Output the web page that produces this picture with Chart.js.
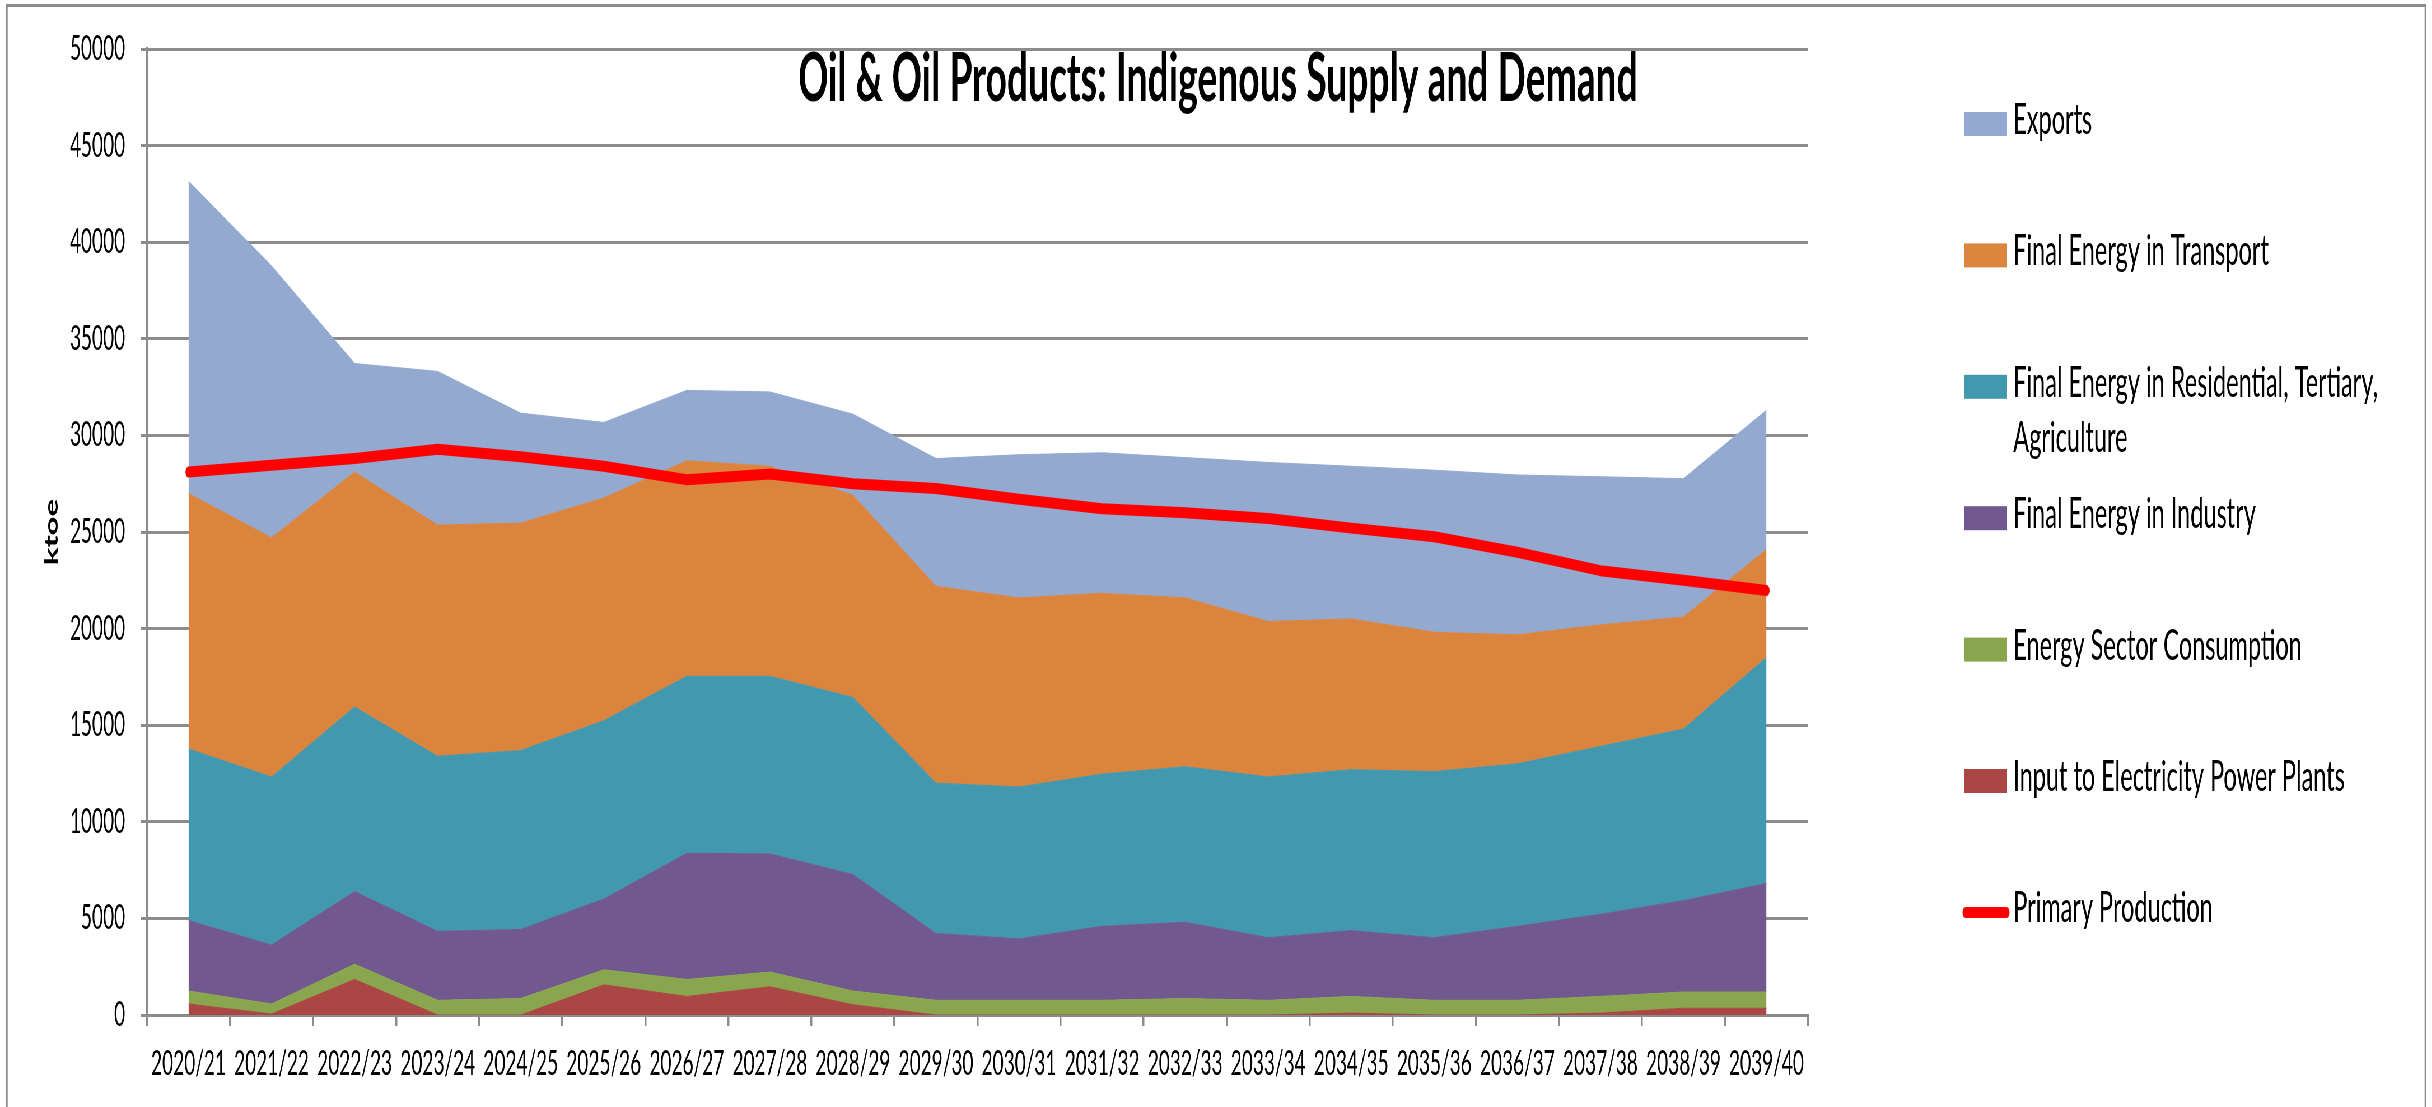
<!DOCTYPE html>
<html>
<head>
<meta charset="utf-8">
<title>Oil &amp; Oil Products: Indigenous Supply and Demand</title>
<script src="https://cdn.jsdelivr.net/npm/chart.js@4.4.1/dist/chart.umd.min.js"></script>
<style>
    html, body { margin: 0; padding: 0; background: #fff; overflow: hidden; }
    /* the original picture is squeezed sideways, so the whole chart is drawn wide and squeezed */
    #stage { position: relative; width: 4343px; height: 1107px; transform: scaleX(0.56); transform-origin: 0 0; }
    #stage canvas { position: absolute; left: 0; top: 0; }
    #frame { position: absolute; left: 11px; top: 4px; width: 4322px; height: 1200px;
             border: 3.5px solid #8c8c8c; box-sizing: border-box; pointer-events: none; }
</style>
</head>
<body>
<div id="stage">
    <canvas id="oilChart" width="4343" height="1107"></canvas>
    <div id="frame"></div>
</div>
<script>
const chartTitle = 'Oil & Oil Products: Indigenous Supply and Demand';

const years = ['2020/21', '2021/22', '2022/23', '2023/24', '2024/25', '2025/26', '2026/27',
    '2027/28', '2028/29', '2029/30', '2030/31', '2031/32', '2032/33', '2033/34', '2034/35',
    '2035/36', '2036/37', '2037/38', '2038/39', '2039/40'];

const yTicks = [0, 5000, 10000, 15000, 20000, 25000, 30000, 35000, 40000, 45000, 50000];

// ktoe
const powerPlants = [570, 50, 1840, 0, 0, 1560, 960, 1460, 530, 0, 0, 0, 0, 0, 100, 0, 0, 100, 350, 350];
const energySector = [670, 520, 790, 760, 850, 780, 880, 760, 710, 760, 760, 760, 850, 760, 860, 760, 760, 860, 840, 840];
const industry = [3650, 3050, 3760, 3570, 3580, 3660, 6530, 6120, 6030, 3460, 3180, 3830, 3950, 3240, 3410, 3240, 3830, 4250, 4730, 5610];
const residential = [8880, 8700, 9550, 9060, 9260, 9230, 9160, 9190, 9170, 7780, 7860, 7880, 8050, 8320, 8330, 8600, 8410, 8690, 8880, 11700];
const transport = [13220, 12380, 12160, 11970, 11770, 11530, 11160, 10870, 10460, 10190, 9790, 9360, 8740, 8050, 7800, 7210, 6680, 6290, 5800, 5600];
const exportsData = [16160, 14070, 5620, 7950, 5690, 3910, 3640, 3850, 4200, 6610, 7410, 7270, 7260, 8230, 7900, 8390, 8270, 7670, 7160, 7200];
const primaryProduction = [28100, 28450, 28800, 29280, 28900, 28400, 27700, 28000, 27500, 27250, 26700, 26200, 26000, 25700, 25200, 24750, 23950, 23000, 22500, 21970];

const axisGrey = '#8c8c8c';

function area(label, data, color, fill) {
    return {
        label: label,
        data: data,
        backgroundColor: color,
        borderColor: color,
        borderWidth: 1,
        pointRadius: 0,
        tension: 0,
        fill: fill
    };
}

function wrapText(ctx, text, maxWidth) {
    const words = text.split(' ');
    const lines = [];
    let line = '';
    words.forEach(word => {
        const test = line ? line + ' ' + word : word;
        if (line && ctx.measureText(test).width > maxWidth) {
            lines.push(line);
            line = word;
        } else {
            line = test;
        }
    });
    lines.push(line);
    return lines;
}

// title sits inside the plot, above the data
const overlayTitle = {
    id: 'overlayTitle',
    afterDraw(chart) {
        const ctx = chart.ctx;
        ctx.save();
        ctx.font = 'bold 66.5px Lato';
        ctx.fillStyle = '#000';
        ctx.textAlign = 'center';
        ctx.textBaseline = 'alphabetic';
        ctx.fillText(chartTitle, 2175, 101);
        ctx.restore();
    }
};

// Excel style legend on the right, top item first
const sideLegend = {
    id: 'sideLegend',
    afterDraw(chart) {
        const ctx = chart.ctx;
        const order = [5, 4, 3, 2, 1, 0, 6];
        ctx.save();
        ctx.font = '42px Lato';
        ctx.textBaseline = 'alphabetic';
        ctx.textAlign = 'left';
        order.forEach((idx, k) => {
            const ds = chart.data.datasets[idx];
            const cy = 124 + k * 131.4;
            if (ds.fill === false) {
                ctx.strokeStyle = ds.borderColor;
                ctx.lineWidth = 11;
                ctx.lineCap = 'round';
                ctx.beginPath();
                ctx.moveTo(3510, cy);
                ctx.lineTo(3583, cy);
                ctx.stroke();
            } else {
                ctx.fillStyle = ds.backgroundColor;
                ctx.fillRect(3507, cy - 12, 77, 24);
            }
            ctx.fillStyle = '#000';
            wrapText(ctx, ds.label, 760).forEach((line, j) => {
                ctx.fillText(line, 3595, cy + 10 + j * 55);
            });
        });
        ctx.restore();
    }
};

const ctx = document.getElementById('oilChart');

new Chart(ctx, {
    type: 'line',
    data: {
        labels: years,
        datasets: [
            area('Input to Electricity Power Plants', powerPlants, '#AA4643', 'origin'),
            area('Energy Sector Consumption', energySector, '#89A54E', '-1'),
            area('Final Energy in Industry', industry, '#71588F', '-1'),
            area('Final Energy in Residential, Tertiary, Agriculture', residential, '#4198AF', '-1'),
            area('Final Energy in Transport', transport, '#DB843D', '-1'),
            area('Exports', exportsData, '#93A9CF', '-1'),
            {
                label: 'Primary Production',
                data: primaryProduction,
                stack: 'production',
                borderColor: '#FF0000',
                backgroundColor: '#FF0000',
                borderWidth: 11,
                borderCapStyle: 'round',
                borderJoinStyle: 'round',
                pointRadius: 0,
                tension: 0,
                fill: false,
                order: -1
            }
        ]
    },
    options: {
        responsive: false,
        animation: false,
        devicePixelRatio: 1,
        layout: {
            padding: { left: 73, right: 1114.4, top: 49, bottom: 0 }
        },
        plugins: {
            legend: { display: false },
            title: { display: false },
            tooltip: { enabled: false }
        },
        scales: {
            x: {
                offset: true,
                grid: {
                    offset: true,
                    drawOnChartArea: false,
                    drawTicks: true,
                    tickLength: 11,
                    lineWidth: 3.5,
                    color: axisGrey
                },
                border: { display: true, color: axisGrey, width: 3 },
                ticks: {
                    color: '#000',
                    font: { family: 'Lato', size: 34 },
                    padding: 18,
                    maxRotation: 0,
                    autoSkip: false
                },
                afterFit(scale) { scale.height = 92; }
            },
            y: {
                stacked: true,
                min: 0,
                max: 50000,
                afterBuildTicks(scale) { scale.ticks = yTicks.map(v => ({ value: v })); },
                grid: {
                    drawTicks: true,
                    tickLength: 11,
                    lineWidth: 3,
                    color: axisGrey
                },
                border: { display: true, color: axisGrey, width: 3.5 },
                ticks: {
                    color: '#000',
                    font: { family: 'Lato', size: 34 },
                    padding: 28,
                    callback: v => String(v)
                },
                title: {
                    display: true,
                    text: 'ktoe',
                    color: '#000',
                    font: { family: 'Lato', size: 33, weight: 'bold' },
                    padding: 0
                },
                afterFit(scale) { scale.width = 189.5; }
            }
        }
    },
    plugins: [overlayTitle, sideLegend]
});
</script>
</body>
</html>
